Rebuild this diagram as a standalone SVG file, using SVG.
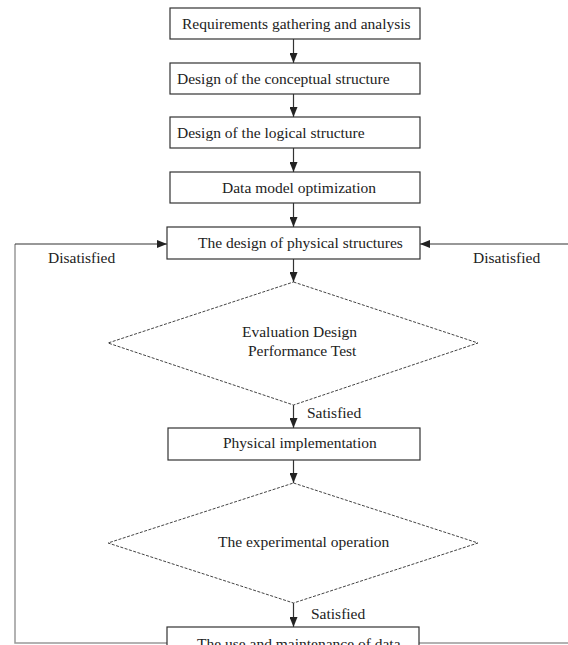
<svg xmlns="http://www.w3.org/2000/svg" width="568" height="645" viewBox="0 0 568 645">
<defs>
<marker id="arr" markerUnits="userSpaceOnUse" markerWidth="10" markerHeight="8" refX="10" refY="4" orient="auto">
<path d="M0,0 L10,4 L0,8 z" fill="#222"/>
</marker>
<style>
.box{fill:#fff;stroke:#333;stroke-width:1.2}
.dia{fill:#fff;stroke:#444;stroke-width:1;stroke-dasharray:3,1.5}
.t{font-family:"Liberation Serif","Times New Roman",serif;font-size:15.5px;fill:#222}
.c{fill:none;stroke:#333;stroke-width:1.2}
.g{fill:none;stroke:#999;stroke-width:1.5}
</style>
</defs>
<rect width="568" height="645" fill="#fff"/>
<g id="connectors">
<line class="c" x1="293.5" y1="39" x2="293.5" y2="63" marker-end="url(#arr)"/>
<line class="c" x1="293.5" y1="94" x2="293.5" y2="117" marker-end="url(#arr)"/>
<line class="c" x1="293.5" y1="148" x2="293.5" y2="172" marker-end="url(#arr)"/>
<line class="c" x1="293.5" y1="203" x2="293.5" y2="227" marker-end="url(#arr)"/>
<line class="c" x1="293.5" y1="259" x2="293.5" y2="282" marker-end="url(#arr)"/>
<line class="c" x1="293.5" y1="405" x2="293.5" y2="428" marker-end="url(#arr)"/>
<line class="c" x1="293.5" y1="460" x2="293.5" y2="483" marker-end="url(#arr)"/>
<line class="c" x1="293.5" y1="603" x2="293.5" y2="627" marker-end="url(#arr)"/>
<polyline class="g" points="167,643 15,643 15,244"/>
<line class="c" x1="15" y1="244" x2="167" y2="244" marker-end="url(#arr)"/>
<line class="g" x1="419" y1="643" x2="568" y2="643"/>
<line class="c" x1="568" y1="244" x2="420" y2="244" marker-end="url(#arr)"/>
<text class="t" x="48" y="263">Disatisfied</text>
<text class="t" x="473" y="263">Disatisfied</text>
<text class="t" x="307" y="418">Satisfied</text>
<text class="t" x="311" y="619">Satisfied</text>
</g>
<g id="n1"><rect class="box" x="170" y="8" width="250" height="31"/><text class="t" x="182" y="29">Requirements gathering and analysis</text></g>
<g id="n2"><rect class="box" x="170" y="63" width="250" height="31"/><text class="t" x="177" y="84">Design of the conceptual structure</text></g>
<g id="n3"><rect class="box" x="170" y="117" width="250" height="31"/><text class="t" x="177" y="138">Design of the logical structure</text></g>
<g id="n4"><rect class="box" x="170" y="172" width="250" height="31"/><text class="t" x="222" y="193">Data model optimization</text></g>
<g id="n5"><rect class="box" x="167" y="227" width="253" height="32"/><text class="t" x="198" y="248">The design of physical structures</text></g>
<g id="d1"><polygon class="dia" points="293.5,282 478,343 293.5,405 108,343"/><text class="t" x="242" y="337">Evaluation Design</text><text class="t" x="248" y="356">Performance Test</text></g>
<g id="n6"><rect class="box" x="168" y="428" width="252" height="32"/><text class="t" x="223" y="448">Physical implementation</text></g>
<g id="d2"><polygon class="dia" points="293.5,483 478,543 293.5,603 108,543"/><text class="t" x="218" y="547">The experimental operation</text></g>
<g id="n7"><rect class="box" x="167" y="627" width="252" height="32"/><text class="t" x="197" y="649">The use and maintenance of data</text></g>
</svg>
